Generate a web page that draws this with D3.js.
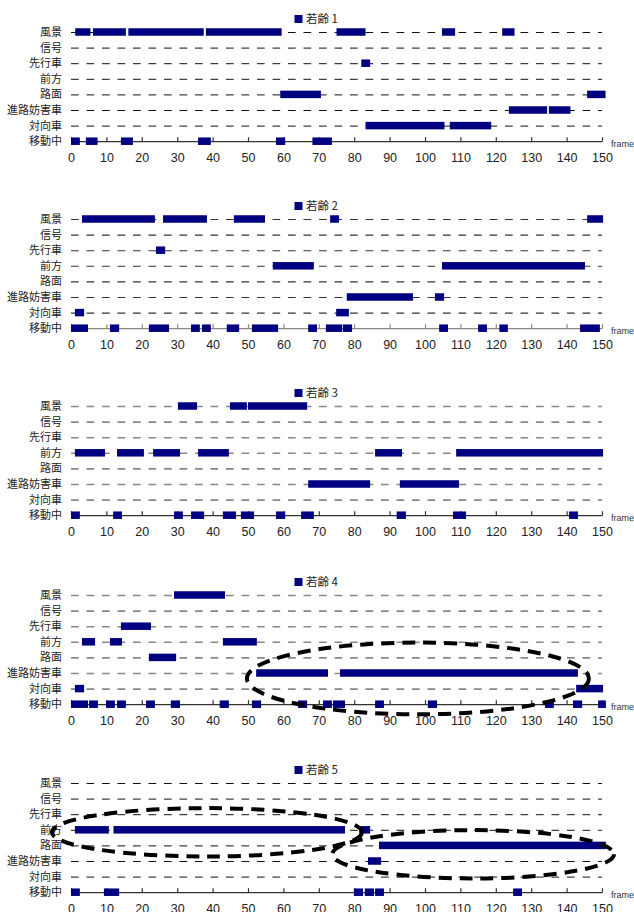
<!DOCTYPE html>
<html><head><meta charset="utf-8">
<script src="https://cdn.jsdelivr.net/npm/d3@7"></script>
<style>
body{margin:0;background:#fff;}
svg{display:block;}
</style></head>
<body>
<svg id="chart" width="634" height="912"></svg>
<script>
// ---------- data ----------
const categories = ['風景','信号','先行車','前方','路面','進路妨害車','対向車','移動中'];
const xTicks = [0,10,20,30,40,50,60,70,80,90,100,110,120,130,140,150];
const panelNames = ['若齢 1','若齢 2','若齢 3','若齢 4','若齢 5'];

const panel1Segments = [
  ['風景',1.2,5.5],['風景',6.2,15.5],['風景',16.2,37.5],['風景',38.1,59.5],['風景',75.0,83.2],['風景',104.8,108.5],['風景',121.8,125.3],
  ['先行車',82.0,84.5],
  ['路面',59.1,70.6],['路面',145.8,151.0],
  ['進路妨害車',123.7,134.5],['進路妨害車',135.0,141.1],
  ['対向車',83.2,105.5],['対向車',107.0,118.7],
  ['移動中',0,2.5],['移動中',4.2,7.5],['移動中',14.1,17.5],['移動中',35.9,39.5],['移動中',57.9,60.5],['移動中',68.2,73.7]
];
const panel2Segments = [
  ['風景',3.1,23.7],['風景',26.0,38.4],['風景',46.0,54.8],['風景',73.2,75.7],['風景',145.8,150.3],
  ['先行車',24.0,26.6],
  ['前方',57.0,68.6],['前方',104.8,145.2],
  ['進路妨害車',77.9,96.6],['進路妨害車',102.8,105.4],
  ['対向車',1.1,3.7],['対向車',74.9,78.5],
  ['移動中',0,4.8],['移動中',11.0,13.6],['移動中',22.0,27.7],['移動中',33.9,36.4],['移動中',37.0,39.5],['移動中',44.0,47.5],
  ['移動中',51.1,58.5],['移動中',67.0,69.5],['移動中',72.0,76.6],['移動中',76.8,79.4],['移動中',104.0,106.5],['移動中',115.0,117.5],
  ['移動中',121.0,123.4],['移動中',143.8,149.4]
];
const panel3Segments = [
  ['風景',30.2,35.6],['風景',44.9,49.7],['風景',50.0,66.7],
  ['前方',1.1,9.6],['前方',13.0,20.6],['前方',23.2,30.8],['前方',35.9,44.6],['前方',85.9,93.5],['前方',108.8,150.3],
  ['進路妨害車',67.0,84.5],['進路妨害車',92.9,109.6],
  ['移動中',0,2.5],['移動中',11.9,14.4],['移動中',29.1,31.6],['移動中',33.9,37.6],['移動中',42.9,46.6],['移動中',48.0,51.7],
  ['移動中',57.9,60.5],['移動中',65.0,68.6],['移動中',92.0,94.6],['移動中',107.9,111.6],['移動中',140.7,143.2]
];
const panel4Segments = [
  ['風景',29.1,43.5],
  ['先行車',14.1,22.6],
  ['前方',3.1,6.8],['前方',11.0,14.4],['前方',42.9,52.5],
  ['路面',22.0,29.7],
  ['進路妨害車',52.3,72.6],['進路妨害車',76.0,143.2],
  ['対向車',1.1,3.7],['対向車',142.7,150.3],
  ['移動中',0,4.8],['移動中',5.1,7.6],['移動中',9.9,12.4],['移動中',13.0,15.5],['移動中',21.2,23.7],['移動中',28.2,30.8],
  ['移動中',42.0,44.6],['移動中',51.1,53.7],['移動中',64.1,66.7],['移動中',71.2,73.7],['移動中',74.0,77.4],['移動中',85.9,88.4],
  ['移動中',100.8,103.4],['移動中',133.9,136.4],['移動中',141.8,144.4],['移動中',148.9,151.1]
];
const panel5Segments = [
  ['前方',1.1,10.7],['前方',12.0,77.4],['前方',81.4,84.5],
  ['路面',87.0,151.1],
  ['進路妨害車',83.9,87.6],
  ['移動中',0,2.5],['移動中',9.3,13.6],['移動中',79.9,82.5],['移動中',83.0,85.6],['移動中',85.9,88.4],['移動中',124.9,127.4]
];
// annotation ellipses: [panel index, centre frame, centre row, radius frames, radius rows]
const ellipses = [
  [3, 98.0, 5.35, 48.3, 2.3],
  [4, 38.4, 3.16, 43.8, 1.55],
  [4, 113.6, 4.57, 39.8, 1.55]
];
const allSegments = [panel1Segments, panel2Segments, panel3Segments, panel4Segments, panel5Segments];

// ---------- layout / style ----------
const X0 = 71, X1 = 602;
const panelTops = [32, 219, 406, 595, 783];
const rowStep = 15.6;
const barH = 7.5;
const gridColors = ['#111','#333','#888','#888','#111'];
const gridWidths = [1, 1.1, 1.6, 1.6, 1];
const axisColors = ['#333','#888','#333','#333','#333'];
const barColor = '#000080';

const svg = d3.select('#chart');
const x = d3.scaleLinear().domain([0,150]).range([X0, X1]);

panelTops.forEach((top, p) => {
  const g = svg.append('g');
  const y = d3.scalePoint().domain(categories).range([top, top + rowStep*(categories.length-1)]);
  const yRow = d3.scaleLinear().domain([0, categories.length-1]).range([top, top + rowStep*(categories.length-1)]);
  const axisY = y('移動中');

  // category labels + dashed grid
  const yAxis = d3.axisLeft(y).tickSize(-(X1-X0)).tickPadding(9);
  const ya = g.append('g').attr('transform', `translate(${X0},0)`).call(yAxis);
  ya.select('.domain').remove();
  ya.selectAll('.tick line')
    .attr('stroke', gridColors[p]).attr('stroke-width', gridWidths[p])
    .attr('stroke-dasharray', '7.7,7.8')
    .attr('display', d => d === '移動中' ? 'none' : null);
  ya.selectAll('.tick text')
    .attr('fill', '#222')
    .style('font-family', '"Noto Sans CJK JP", sans-serif')
    .style('font-size', '11px');

  // x axis
  const xAxis = d3.axisBottom(x).tickValues(xTicks).tickSize(-4).tickSizeOuter(0).tickPadding(12);
  const xa = g.append('g').attr('transform', `translate(0,${axisY})`).call(xAxis);
  xa.select('.domain').attr('stroke', axisColors[p]).attr('stroke-width', 1.3);
  xa.selectAll('.tick line').attr('stroke', axisColors[p]).attr('stroke-width', 1.2);
  xa.selectAll('.tick text')
    .attr('fill', '#222')
    .style('font-family', '"Liberation Sans", Arial, sans-serif')
    .style('font-size', '12.5px');
  g.append('text').attr('x', X1 + 9).attr('y', axisY + 6)
    .attr('fill', '#333')
    .style('font-family', '"Liberation Sans", Arial, sans-serif')
    .style('font-size', '9px').text('frame');

  // bars
  g.append('g').selectAll('rect').data(allSegments[p]).join('rect')
    .attr('x', d => x(d[1]))
    .attr('width', d => x(d[2]) - x(d[1]))
    .attr('y', d => y(d[0]) - barH/2)
    .attr('height', barH)
    .attr('fill', barColor);

  // legend
  g.append('rect').attr('x', 294.5).attr('y', top - 17).attr('width', 8).attr('height', 8).attr('fill', barColor);
  g.append('text').attr('x', 306).attr('y', top - 9)
    .attr('fill', '#222')
    .style('font-family', '"Noto Sans CJK JP", sans-serif')
    .style('font-size', '11.5px')
    .text(panelNames[p]);

  // annotation ellipses
  g.append('g').selectAll('ellipse').data(ellipses.filter(e => e[0] === p)).join('ellipse')
    .attr('cx', d => x(d[1]))
    .attr('cy', d => yRow(d[2]))
    .attr('rx', d => x(d[3]) - x(0))
    .attr('ry', d => yRow(d[4]) - yRow(0))
    .attr('fill', 'none')
    .attr('stroke', '#000')
    .attr('stroke-width', 4)
    .attr('stroke-dasharray', '13,8');
});
</script>
</body></html>
